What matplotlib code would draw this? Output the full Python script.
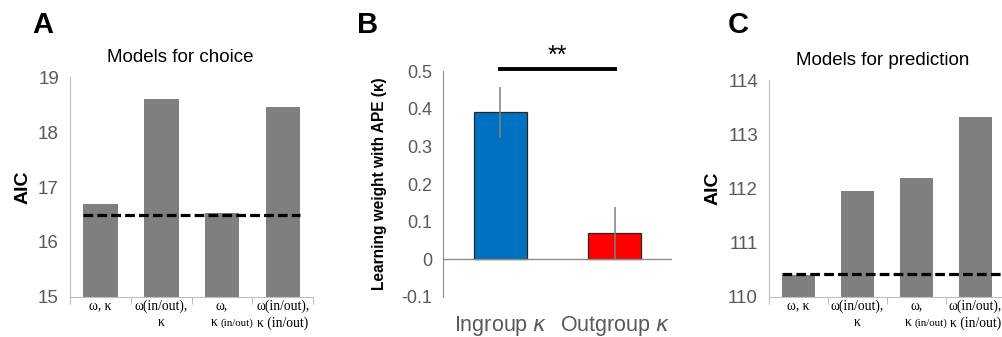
import matplotlib.pyplot as plt
import matplotlib.transforms as mtransforms
import numpy as np

plt.rcParams['font.family'] = ['Liberation Sans', 'DejaVu Sans']
plt.rcParams['lines.scale_dashes'] = False

# panel A - models for choice (AIC)
aic_choice = [16.7, 18.6, 16.53, 18.46]
choice_best = 16.5
# panel B - learning weight with APE
groups = ["Ingroup", "Outgroup"]
kappa = [0.39, 0.07]
kappa_err = [0.067, 0.07]
# panel C - models for prediction (AIC)
aic_pred = [110.41, 111.96, 112.19, 113.32]
pred_best = 110.42

# category labels: (first line, second line main, second line small)
model_labels = [("ω, κ", "", ""),
                ("ω(in/out),", "κ", ""),
                ("ω,", "κ", "(in/out)"),
                ("ω(in/out),", "κ (in/out)", "")]

gray_txt = '#595959'
bar_gray = '#7f7f7f'
spine_gray = '#bfbfbf'

fig = plt.figure(figsize=(10.03, 3.37), dpi=100)


def aic_panel(ax, vals, best, ylim, title, title_x, xmax_line):
    x = np.arange(len(vals))
    ax.bar(x, np.array(vals) - ylim[0], bottom=ylim[0], width=0.57, color=bar_gray)
    ax.hlines(best, -0.285, xmax_line, colors='black', linestyles=(0, (7, 3)), lw=2.3, zorder=3)
    ax.set_ylim(*ylim)
    ax.set_xlim(-0.5, 3.5)
    ax.set_yticks(np.arange(ylim[0], ylim[1] + 1))
    ax.set_xticks(np.arange(-0.5, 4.0, 1.0))
    ax.set_xticklabels([])
    ax.tick_params(axis='x', length=5, color=spine_gray, direction='out')
    ax.tick_params(axis='y', length=0, labelsize=13.5, labelcolor=gray_txt, pad=8)
    for s in ['top', 'right']:
        ax.spines[s].set_visible(False)
    for s in ['left', 'bottom']:
        ax.spines[s].set_color(spine_gray)
    ax.set_title(title, fontsize=13.5, pad=11, x=title_x)
    ax.set_ylabel('AIC', fontsize=14, fontweight='bold', labelpad=5)
    tr = mtransforms.blended_transform_factory(ax.transData, ax.transAxes)
    for i, (l1, l2, l3) in enumerate(model_labels):
        ax.annotate(l1, (i, 0), xycoords=tr, xytext=(0, -6.5), textcoords='offset points',
                    ha='center', va='center', family='Liberation Serif', fontsize=9.8)
        if l3:
            ax.annotate(l2, (i, 0), xycoords=tr, xytext=(-3.3, -18.7), textcoords='offset points',
                        ha='right', va='center', family='Liberation Serif', fontsize=9.8)
            ax.annotate(l3, (i, 0), xycoords=tr, xytext=(-1.2, -19.2), textcoords='offset points',
                        ha='left', va='center', family='Liberation Serif', fontsize=7.8)
        elif l2:
            ax.annotate(l2, (i, 0), xycoords=tr, xytext=(0, -18.7), textcoords='offset points',
                        ha='center', va='center', family='Liberation Serif', fontsize=9.8)


axA = fig.add_axes([0.0698, 0.1187, 0.2425, 0.6528])
aic_panel(axA, aic_choice, choice_best, (15, 19), 'Models for choice', 0.455, 3.285)

axC = fig.add_axes([0.7667, 0.1187, 0.2353, 0.6439])
aic_panel(axC, aic_pred, pred_best, (110, 114), 'Models for prediction', 0.48, 3.6)

# panel B
axB = fig.add_axes([0.4417, 0.1187, 0.2283, 0.6706])
xb = np.arange(len(groups))
axB.bar(xb, kappa, width=0.46, color=['#0070c0', '#ff0000'], edgecolor='#262626', linewidth=0.9)
axB.errorbar(xb, kappa, yerr=kappa_err, fmt='none', ecolor='#7f7f7f', elinewidth=1.1, capsize=0)
axB.axhline(0, color='#8c8c8c', lw=1.0)
axB.set_xlim(-0.5, 1.5)
axB.set_ylim(-0.1, 0.5)
axB.set_yticks([-0.1, 0, 0.1, 0.2, 0.3, 0.4, 0.5])
axB.set_yticklabels(['-0.1', '0', '0.1', '0.2', '0.3', '0.4', '0.5'])
axB.tick_params(axis='y', length=0, labelsize=13, labelcolor=gray_txt, pad=8)
axB.set_xticks(xb)
axB.set_xticklabels([g + ' $\\kappa$' for g in groups])
axB.tick_params(axis='x', length=0, labelsize=15.5, labelcolor=gray_txt, pad=12)
axB.spines['left'].set_color('#8c8c8c')
for s in ['top', 'right', 'bottom']:
    axB.spines[s].set_visible(False)
axB.set_ylabel('Learning weight with APE (κ)', fontsize=11.2, fontweight='bold', labelpad=10)
axB.plot([0, 1], [0.504, 0.504], color='black', lw=2.8, clip_on=False)
axB.text(0.5, 0.508, '**', ha='center', va='bottom', fontsize=18, clip_on=False)

# panel letters
fig.text(0.043, 0.925, 'A', fontsize=21, fontweight='bold', ha='center', va='center')
fig.text(0.366, 0.925, 'B', fontsize=21, fontweight='bold', ha='center', va='center')
fig.text(0.736, 0.925, 'C', fontsize=21, fontweight='bold', ha='center', va='center')

plt.savefig('out.png', dpi=100)
